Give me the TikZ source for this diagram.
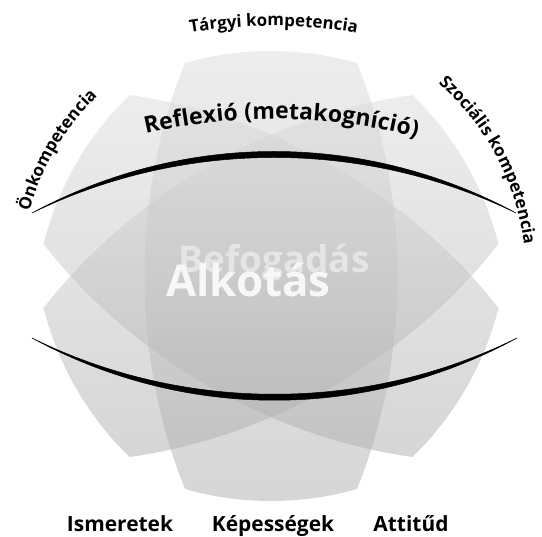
\documentclass[tikz,border=0pt]{standalone}
\usepackage{fontspec}
\setmainfont{Open Sans}
\usepackage{tikz}
\usetikzlibrary{decorations.text}

\newcommand{\outerfont}{\fontsize{17}{20}\selectfont\bfseries}
\newcommand{\reflfont}{\fontsize{23}{27}\selectfont\bfseries}

\begin{document}
\begin{tikzpicture}[x=1bp,y=1bp]
\tikzstyle{petal}=[top color=black!14,bottom color=black!32,fill opacity=0.5,draw=none]
\tikzstyle{bow}=[fill=black,draw=black,line width=0.5bp]
\tikzstyle{label}=[font=\fontsize{21}{25}\selectfont\bfseries,anchor=base,inner sep=0pt]
\tikzstyle{arclabel}=[decorate,decoration={text along path,text align=fit to path}]
\tikzset{font=\bfseries}

\useasboundingbox (0,0) rectangle (542,537);
\coordinate (ctr) at (271,261);

        % petals
        \path[petal,shift={(ctr)}]
        (-86,213) .. controls (-30,229) and (30,229) .. (86,213)
        .. controls (140,80) and (140,-80) .. (86,-213)
        .. controls (30,-229) and (-30,-229) .. (-86,-213)
        .. controls (-140,-80) and (-140,80) .. (-86,213) -- cycle;
        \path[petal,shift={(ctr)},rotate=60]
        (-86,213) .. controls (-30,229) and (30,229) .. (86,213)
        .. controls (140,80) and (140,-80) .. (86,-213)
        .. controls (30,-229) and (-30,-229) .. (-86,-213)
        .. controls (-140,-80) and (-140,80) .. (-86,213) -- cycle;
        \path[petal,shift={(ctr)},rotate=-60]
        (-86,213) .. controls (-30,229) and (30,229) .. (86,213)
        .. controls (140,80) and (140,-80) .. (86,-213)
        .. controls (30,-229) and (-30,-229) .. (-86,-213)
        .. controls (-140,-80) and (-140,80) .. (-86,213) -- cycle;

        % the two bows
        \fill[bow] (32,324) .. controls (184,406) and (364,406) .. (516,324)
        .. controls (364,398) and (184,398) .. (32,324) -- cycle;
        \fill[bow] (32,199) .. controls (184,124) and (365,124) .. (517,199)
        .. controls (365,116) and (184,116) .. (32,199) -- cycle;

        % texts on arcs
        \path[arclabel,decoration={text={|\outerfont|Tárgyi kompetencia}}]
        (272,21) ++(99.6:490) arc[start angle=99.6,end angle=80.3,radius=490];
        \path[arclabel,decoration={text={|\outerfont|Önkompetencia}}]
        (ctr) ++(165:250) arc[start angle=165,end angle=135,radius=250];
        \path[arclabel,decoration={text={|\outerfont|Szociális kompetencia}}]
        (ctr) ++(49:255) arc[start angle=49,end angle=7,radius=255];
        \path[arclabel,decoration={text={|\reflfont|Reflexió (metakogníció)}}]
        (274,-152) ++(103:570) arc[start angle=103,end angle=75.5,radius=570];

        % middle
        \node[inner sep=0pt,anchor=base,text=black!10,font=\fontsize{37}{40}\selectfont\bfseries] (befog) at (274,264) {Befogadás};
        \node[inner sep=0pt,anchor=base,text=black!3,font=\fontsize{44}{48}\selectfont\bfseries] (alkot) at (248.5,240) {Alkotás};

        % bottom
        \node[label] (isme) at (120,5) {Ismeretek};
        \node[label] (kepe) at (273,5) {Képességek};
        \node[label] (atti) at (411,5) {Attitűd};

\end{tikzpicture}
\end{document}
